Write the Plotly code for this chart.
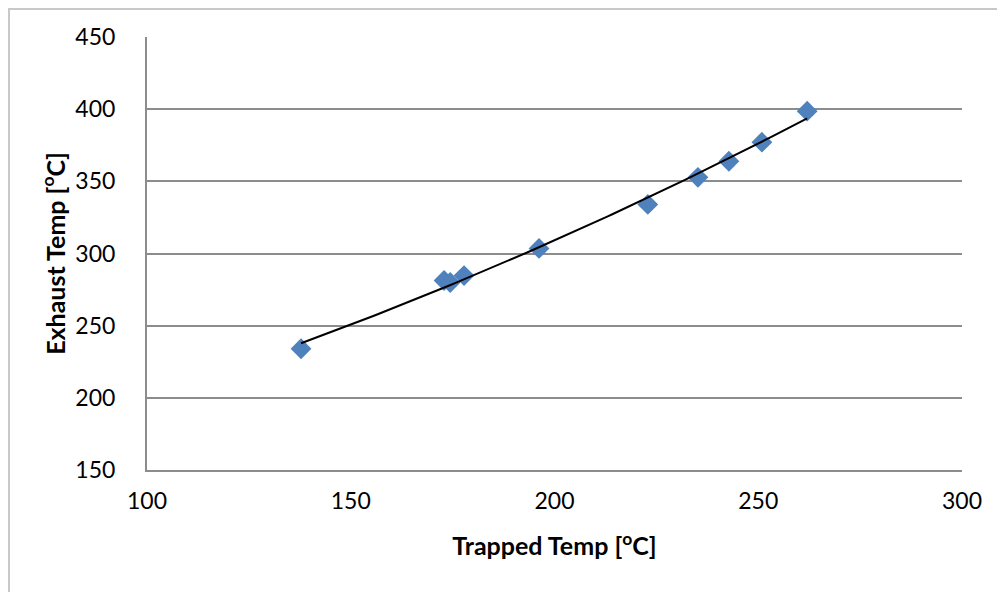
import numpy as np
import plotly.graph_objects as go

trapped_temp = [137.8, 172.9, 174.4, 177.8, 196.2, 222.9, 235.2, 242.8, 250.9, 262.0]
exhaust_temp = [234.0, 281.3, 279.9, 284.7, 303.5, 334.0, 352.8, 363.9, 377.1, 398.6]

x_ticks = [100, 150, 200, 250, 300]
y_ticks = [150, 200, 250, 300, 350, 400, 450]

# 2nd-order polynomial trendline fitted to the data
coef = np.polyfit(trapped_temp, exhaust_temp, 2)
xs = np.linspace(min(trapped_temp), max(trapped_temp), 100)
ys = np.polyval(coef, xs)

fig = go.Figure()
fig.add_trace(go.Scatter(
    x=trapped_temp, y=exhaust_temp, mode="markers",
    marker=dict(symbol="diamond", size=16, color="#4F81BD", line=dict(width=0)),
    showlegend=False, hoverinfo="x+y"))
fig.add_trace(go.Scatter(
    x=xs, y=ys, mode="lines", line=dict(color="black", width=2),
    showlegend=False, hoverinfo="skip"))

OFF = 8  # page body margin
L, R, T, B = 147 - OFF, 43, 37 - OFF, 122
W, H = 1005 - OFF, 592 - OFF
pw, ph = W - L - R, H - T - B

fig.update_layout(
    width=W, height=H,
    margin=dict(l=L, r=R, t=T, b=B),
    paper_bgcolor="white", plot_bgcolor="white",
    font=dict(family="Lato, Noto Sans, sans-serif", size=23, color="black"),
    xaxis=dict(
        range=[100, 300], tickvals=x_ticks, showgrid=False, zeroline=False,
        showline=True, linecolor="#8C8C8C", linewidth=2,
        ticks="outside", ticklen=9, tickcolor="rgba(0,0,0,0)",
        title=dict(text="<b>Trapped Temp [<sup>o</sup>C]</b>", font=dict(size=25), standoff=25),
    ),
    yaxis=dict(
        range=[150, 450], tickvals=y_ticks, showgrid=True, gridcolor="#8C8C8C", gridwidth=1.5,
        zeroline=False, showline=True, linecolor="#8C8C8C", linewidth=2,
        ticks="outside", ticklen=25, tickcolor="rgba(0,0,0,0)",
        title=dict(text="<b>Exhaust Temp [<sup>o</sup>C]</b>", font=dict(size=25), standoff=3),
    ),
    shapes=[dict(
        type="rect", xref="paper", yref="paper",
        x0=(1 - L) / pw, x1=(W + 10 - L) / pw,
        y0=-(B + 20) / ph, y1=(ph + T - 1) / ph,
        line=dict(color="#C8C8C8", width=2), fillcolor="rgba(0,0,0,0)", layer="below")],
)

fig.write_html("out.html")
